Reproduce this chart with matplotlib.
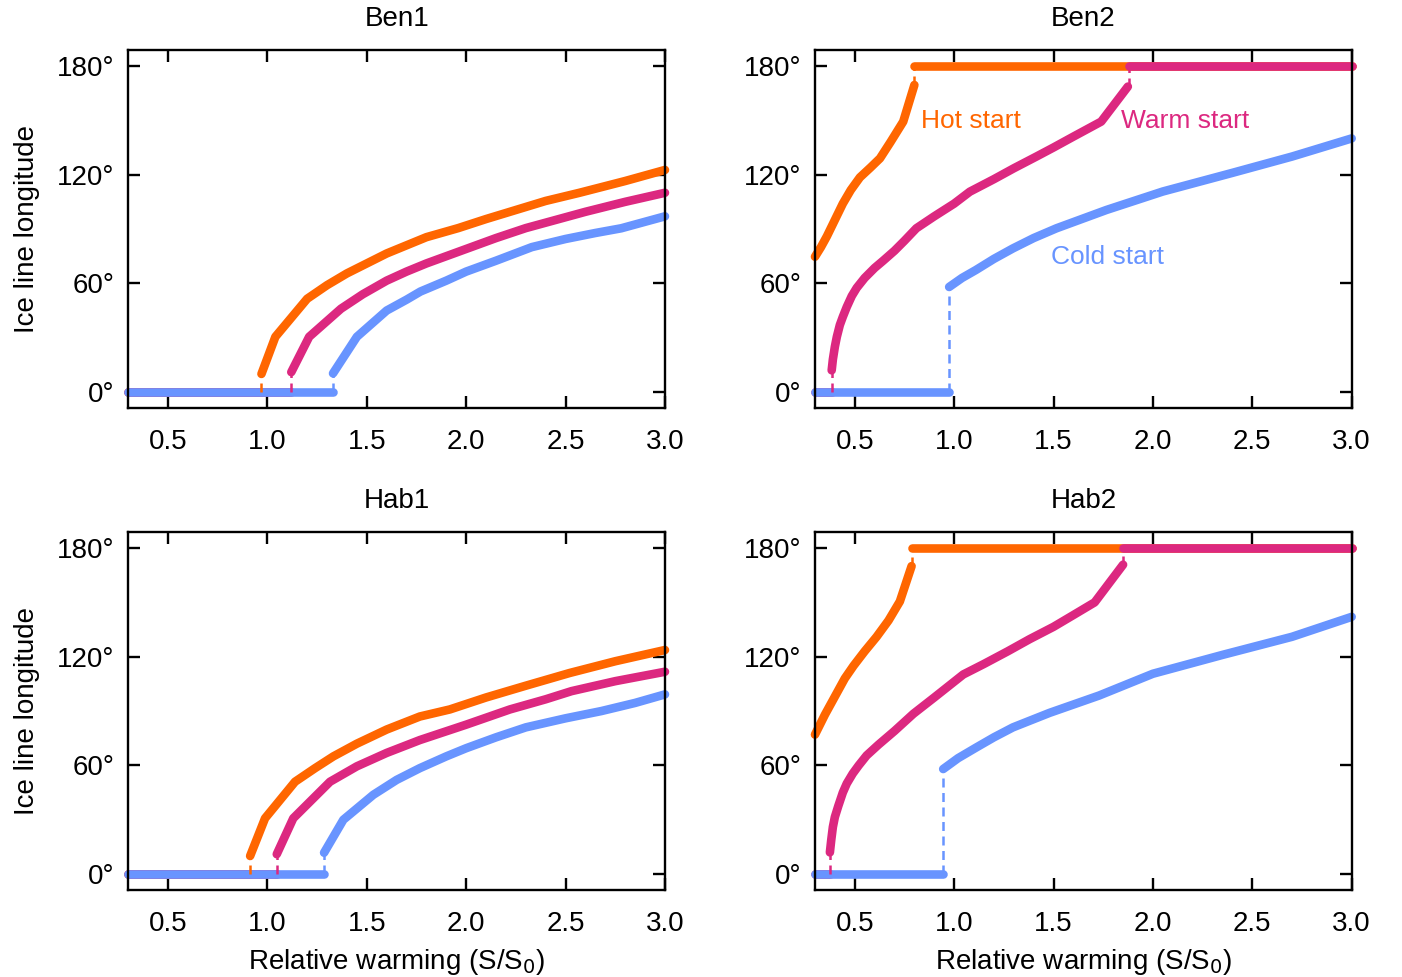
import matplotlib
matplotlib.use('Agg')
import matplotlib.pyplot as plt

plt.rcParams['font.family'] = ['Liberation Sans', 'DejaVu Sans']
plt.rcParams['font.size'] = 20

# colours of the three starting states
HOT = '#FF6600'
WARM = '#DC2880'
COLD = '#6894FF'

X_TICKS = [0.5, 1.0, 1.5, 2.0, 2.5, 3.0]
X_TICK_LABELS = ['0.5', '1.0', '1.5', '2.0', '2.5', '3.0']
Y_TICKS = [0, 60, 120, 180]
Y_TICK_LABELS = ['0°', '60°', '120°', '180°']

# each series is a list of branches (x, y); branches are joined by a dashed jump
# --- Ben1 ---
ben1_hot = [([0.3, 0.97], [0, 0]),
            ([0.97, 1.04, 1.2, 1.3, 1.4, 1.5, 1.6, 1.7, 1.8, 1.96, 2.1, 2.25, 2.4, 2.57, 2.8, 3.0],
             [10, 30.5, 51.5, 59, 65.5, 71, 76.5, 81, 85.5, 90.5, 95.5, 100.5, 105.5, 110, 116.5, 122.6])]
ben1_warm = [([0.3, 1.12], [0, 0]),
             ([1.12, 1.21, 1.37, 1.48, 1.6, 1.7, 1.8, 1.9, 2.0, 2.15, 2.3, 2.45, 2.6, 2.8, 3.0],
              [11, 30.5, 46, 54, 61.5, 66.5, 71, 75, 79, 85, 90.5, 95, 99.5, 105, 110])]
ben1_cold = [([0.3, 1.33], [0, 0]),
             ([1.33, 1.45, 1.6, 1.7, 1.77, 1.9, 2.0, 2.15, 2.33, 2.5, 2.65, 2.78, 2.9, 3.0],
              [10.3, 30.5, 45, 51, 55.5, 61.5, 66.5, 72.5, 80, 84.5, 87.8, 90.4, 94, 97])]

# --- Ben2 ---
ben2_hot = [([0.3, 0.33, 0.36, 0.4, 0.44, 0.48, 0.526, 0.58, 0.627, 0.68, 0.744, 0.80],
             [74.7, 80, 86, 95, 104, 111.5, 118.5, 124, 129, 138, 149.3, 169.5]),
            ([0.80, 3.0], [180, 180])]
ben2_warm = [([0.3, 0.384], [0, 0]),
             ([0.384, 0.39, 0.40, 0.41, 0.425, 0.44, 0.46, 0.485, 0.51, 0.55, 0.6, 0.643,
               0.7, 0.75, 0.81, 0.9, 1.0, 1.079, 1.2, 1.3, 1.414, 1.5, 1.6, 1.74, 1.874],
              [12, 18, 25, 30.5, 37, 41.5, 47, 53, 57.5, 63, 68.5, 72.5,
               78, 83.5, 90.4, 97, 104, 110.6, 117.5, 123.5, 130, 135, 141, 149.3, 168.6]),
             ([1.88, 3.0], [180, 180])]
ben2_cold = [([0.3, 0.975], [0, 0]),
             ([0.975, 1.04, 1.11, 1.2, 1.296, 1.4, 1.515, 1.766, 2.05, 2.4, 2.7, 3.0],
              [58, 63, 67.4, 73.5, 79.3, 85, 90.4, 100.5, 110.7, 121, 130, 140])]

# --- Hab1 ---
hab1_hot = [([0.3, 0.913], [0, 0]),
            ([0.913, 0.988, 1.139, 1.24, 1.332, 1.45, 1.6, 1.767, 1.918, 2.1, 2.3, 2.52, 2.75, 3.0],
             [10, 30.8, 51, 58.5, 65, 72, 79.8, 87, 90.9, 97.5, 104, 111, 117.5, 123.7])]
hab1_warm = [([0.3, 1.047], [0, 0]),
             ([1.047, 1.13, 1.315, 1.45, 1.6, 1.767, 2.0, 2.22, 2.4, 2.53, 2.75, 3.0],
              [11, 30.8, 51, 59.5, 66.9, 74, 82.5, 90.9, 96.5, 101, 106.5, 111.7])]
hab1_cold = [([0.3, 1.285], [0, 0]),
             ([1.285, 1.382, 1.533, 1.65, 1.767, 1.9, 2.0, 2.15, 2.3, 2.5, 2.68, 2.85, 3.0],
              [11.8, 30, 43.8, 52, 58.5, 65, 69.5, 75.5, 81, 86, 90, 94.5, 99.2])]

# --- Hab2 ---
hab2_hot = [([0.3, 0.35, 0.41, 0.45, 0.494, 0.55, 0.61, 0.67, 0.727, 0.786],
             [77, 88, 100, 108, 115, 123, 131, 140, 150.5, 170]),
            ([0.786, 3.0], [180, 180])]
hab2_warm = [([0.3, 0.375], [0, 0]),
             ([0.375, 0.382, 0.39, 0.40, 0.417, 0.44, 0.46, 0.49, 0.52, 0.56, 0.62, 0.7,
               0.795, 0.9, 1.046, 1.15, 1.27, 1.38, 1.5, 1.6, 1.707, 1.85],
              [12, 19, 26, 31.5, 37.5, 45, 50, 55.5, 60, 65.5, 71.5, 79,
               88.5, 97.5, 110.2, 116, 123, 129.7, 136.5, 143, 150, 170.8]),
             ([1.85, 3.0], [180, 180])]
hab2_cold = [([0.3, 0.945], [0, 0]),
             ([0.945, 1.02, 1.113, 1.2, 1.296, 1.48, 1.73, 2.0, 2.35, 2.7, 3.0],
              [58, 64, 70, 75.5, 81, 89, 98.6, 110.6, 121, 131, 142])]

panels = [
    ('Ben1', [ben1_hot, ben1_warm, ben1_cold]),
    ('Ben2', [ben2_hot, ben2_warm, ben2_cold]),
    ('Hab1', [hab1_hot, hab1_warm, hab1_cold]),
    ('Hab2', [hab2_hot, hab2_warm, hab2_cold]),
]
colors = [HOT, WARM, COLD]

# axes rectangles in figure fractions (left, bottom, width, height)
rects = [(0.0915, 0.5824, 0.3828, 0.3664), (0.5813, 0.5824, 0.3828, 0.3664),
         (0.0915, 0.0890, 0.3828, 0.3664), (0.5813, 0.0890, 0.3828, 0.3664)]

fig = plt.figure(figsize=(14.02, 9.77), dpi=100)

for i, ((name, series), rect) in enumerate(zip(panels, rects)):
    ax = fig.add_axes(rect)
    for branches, c in zip(series, colors):
        for j, (bx, by) in enumerate(branches):
            ax.plot(bx, by, color=c, lw=6.2, solid_capstyle='round',
                    solid_joinstyle='round', clip_on=False, zorder=2)
            if j > 0:
                px, py = branches[j - 1]
                ax.plot([bx[0], bx[0]], [py[-1], by[0]], color=c, lw=1.8,
                        dashes=(3.6, 2.2), clip_on=False, zorder=3)

    ax.set_xlim(0.3, 3.0)
    ax.set_ylim(-8.8, 188.8)
    ax.set_xticks(X_TICKS)
    ax.set_xticklabels(X_TICK_LABELS)
    ax.set_yticks(Y_TICKS)
    ax.set_yticklabels(Y_TICK_LABELS)
    ax.tick_params(direction='in', length=8.6, width=1.7, top=True, right=True,
                   labelsize=20)
    ax.tick_params(axis='x', pad=15)
    ax.tick_params(axis='y', pad=10)
    for s in ax.spines.values():
        s.set_linewidth(1.7)
    ax.set_title(name, fontsize=20, pad=17)

    if i % 2 == 0:
        ax.set_ylabel('Ice line longitude', fontsize=20, labelpad=12)
    if i >= 2:
        ax.set_xlabel('Relative warming (S/S$_0$)', fontsize=20, labelpad=7)

    if name == 'Ben2':
        ax.text(1.084, 149.6, 'Hot start', color=HOT, ha='center', va='center', fontsize=19)
        ax.text(2.164, 149.6, 'Warm start', color=WARM, ha='center', va='center', fontsize=19)
        ax.text(1.772, 74.5, 'Cold start', color=COLD, ha='center', va='center', fontsize=19)

fig.savefig('out.png', dpi=100)
